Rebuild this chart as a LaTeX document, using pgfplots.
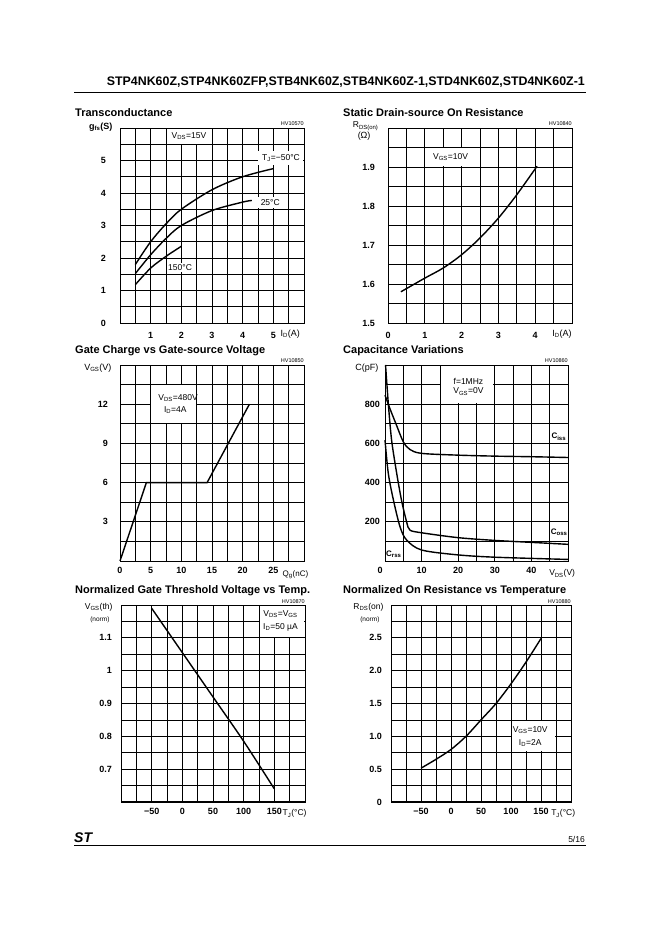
\documentclass[border=0pt]{standalone}
\usepackage{pgfplots}
\pgfplotsset{compat=1.18}
\usepackage{fontspec}
\setmainfont{Liberation Sans}

\newcommand{\subs}[1]{\textsubscript{#1}}
\newcommand{\tk}{\fontsize{9}{9}\selectfont\bfseries}
\newcommand{\an}{\fontsize{8.5}{10}\selectfont}
\newcommand{\ttl}{\fontsize{11}{12}\selectfont\bfseries}
\newcommand{\hv}{\fontsize{5.5}{6}\selectfont}

\pgfplotsset{
  ds/.style={
    scale only axis, anchor=south west, clip=false,
    axis line style={black, line width=0.8pt},
    grid=both,
    major grid style={black, line width=0.8pt},
    minor grid style={black, line width=0.8pt},
    major tick length=0pt, minor tick length=0pt,
    tick label style={font=\tk, inner sep=0pt},
    xticklabel style={anchor=north, yshift=-6pt},
    yticklabel style={anchor=east, xshift=-5pt},
  },
  curve/.style={black, line width=1.4pt, smooth, no markers},
}

\begin{document}
\begin{tikzpicture}
\fill[white] (0,0) rectangle (662pt,936pt);

% header and footer
\node[anchor=base east, font=\fontsize{12.4}{13}\selectfont\bfseries, inner sep=0pt]
  at (585pt,850pt) {STP4NK60Z,STP4NK60ZFP,STB4NK60Z,STB4NK60Z-1,STD4NK60Z,STD4NK60Z-1};
\draw[line width=0.8pt] (74pt,844pt) -- (586pt,844pt);
\draw[line width=0.8pt] (74pt,91pt) -- (586pt,91pt);
\node[anchor=base west, font=\fontsize{14}{14}\selectfont\bfseries\itshape, inner sep=0pt] at (74pt,93pt) {ST};
\node[anchor=base east, font=\fontsize{8.5}{9}\selectfont, inner sep=0pt] at (585pt,93pt) {5/16};

% titles
\node[anchor=base west, font=\ttl, inner sep=0pt] at (75pt,819.5pt) {Transconductance};
\node[anchor=base west, font=\ttl, inner sep=0pt] at (343pt,819.5pt) {Static Drain-source On Resistance};
\node[anchor=base west, font=\ttl, inner sep=0pt] at (75pt,582pt) {Gate Charge vs Gate-source Voltage};
\node[anchor=base west, font=\ttl, inner sep=0pt] at (343pt,582pt) {Capacitance Variations};
\node[anchor=base west, font=\ttl, inner sep=0pt] at (75pt,342pt) {Normalized Gate Threshold Voltage vs Temp.};
\node[anchor=base west, font=\ttl, inner sep=0pt] at (343pt,342pt) {Normalized On Resistance vs Temperature};

% 1 Transconductance
\begin{axis}[ds, at={(120pt,613pt)}, width=184pt, height=195pt,
  xmin=0, xmax=6, ymin=0, ymax=6,
  xtick={1,2,3,4,5}, xticklabels={1,2,3,4,5},
  minor xtick={0,0.5,1,1.5,2,2.5,3,3.5,4,4.5,5,5.5,6},
  ytick={0,1,2,3,4,5}, yticklabels={0,1,2,3,4,5},
  minor ytick={0,0.5,1,1.5,2,2.5,3,3.5,4,4.5,5,5.5,6},
  xticklabel style={yshift=-3pt}, yticklabel style={xshift=-9pt}]
\fill[white] (axis cs:1.53,5.52) rectangle (axis cs:2.97,5.98);
\fill[white] (axis cs:4.5,4.85) rectangle (axis cs:5.97,5.3);
\fill[white] (axis cs:4.5,3.55) rectangle (axis cs:5.3,3.87);
\fill[white] (axis cs:1.55,1.56) rectangle (axis cs:2.37,1.86);
\addplot[curve] coordinates {(0.5,1.8) (1,2.5) (1.5,3.05) (2,3.5) (3,4.1) (4,4.5) (5,4.75)};
\addplot[curve] coordinates {(0.5,1.52) (1,2.1) (1.5,2.6) (2,3.0) (3,3.46) (4,3.72) (4.3,3.77)};
\addplot[curve] coordinates {(0.5,1.18) (1,1.69) (1.5,2.05) (2,2.36)};
\node[font=\an] at (axis cs:2.25,5.75) {V\subs{DS}=15V};
\node[font=\an] at (axis cs:5.25,5.07) {T\subs{J}=−50°C};
\node[font=\an] at (axis cs:4.9,3.71) {25°C};
\node[font=\an] at (axis cs:1.96,1.71) {150°C};
\node[font=\fontsize{9}{9}\selectfont\bfseries, anchor=east] at ([xshift=-4pt,yshift=1pt]rel axis cs:0,1) {g\subs{fs}(S)};
\node[font=\fontsize{9}{9}\selectfont, anchor=north] at ([yshift=-3pt]axis cs:5.55,0) {I\subs{D}(A)};
\node[font=\hv, anchor=south east, inner sep=0pt] at ([yshift=2pt]rel axis cs:1,1) {HV10570};
\end{axis}

% 2 Static drain-source on resistance
\begin{axis}[ds, at={(388pt,613pt)}, width=184pt, height=195pt,
  xmin=0, xmax=5, ymin=1.5, ymax=2.0,
  xtick={0,1,2,3,4}, xticklabels={0,1,2,3,4},
  minor xtick={0,0.5,1,1.5,2,2.5,3,3.5,4,4.5,5},
  ytick={1.5,1.6,1.7,1.8,1.9}, yticklabels={1.5,1.6,1.7,1.8,1.9},
  minor ytick={1.5,1.55,1.6,1.65,1.7,1.75,1.8,1.85,1.9,1.95,2.0},
  xticklabel style={yshift=-3pt}, yticklabel style={xshift=-8pt}]
\fill[white] (axis cs:1.02,1.902) rectangle (axis cs:2.48,1.948);
\addplot[curve] coordinates {(0.35,1.58) (1,1.615) (1.5,1.641) (2,1.675) (2.5,1.718) (3,1.769) (3.5,1.829) (4.05,1.902)};
\node[font=\an] at (axis cs:1.7,1.925) {V\subs{GS}=10V};
\node[font=\fontsize{8.5}{9}\selectfont, anchor=east] at ([xshift=-6pt,yshift=2pt]rel axis cs:0,1) {R\subs{DS(on)}};
\node[font=\fontsize{9}{9}\selectfont, anchor=east] at ([xshift=-14pt,yshift=-8pt]rel axis cs:0,1) {(Ω)};
\node[font=\fontsize{9}{9}\selectfont, anchor=north] at ([yshift=-3pt]axis cs:4.73,1.5) {I\subs{D}(A)};
\node[font=\hv, anchor=south east, inner sep=0pt] at ([yshift=2pt]rel axis cs:1,1) {HV10840};
\end{axis}

% 3 Gate charge
\begin{axis}[ds, at={(120pt,375pt)}, width=184pt, height=196pt,
  xmin=0, xmax=30, ymin=0, ymax=15,
  xtick={0,5,10,15,20,25}, xticklabels={0,5,10,15,20,25},
  minor xtick={0,2.5,5,7.5,10,12.5,15,17.5,20,22.5,25,27.5,30},
  ytick={3,6,9,12}, yticklabels={3,6,9,12},
  minor ytick={0,1.5,3,4.5,6,7.5,9,10.5,12,13.5,15},
  yticklabel style={xshift=-7pt}]
\fill[white] (axis cs:5.1,10.55) rectangle (axis cs:12.4,13.45);
\addplot[black, line width=1.4pt, no markers] coordinates {(0,0) (4.3,6) (14.2,6) (21.1,12)};
\node[font=\an, anchor=west] at (axis cs:5.7,12.45) {V\subs{DS}=480V};
\node[font=\an, anchor=west] at (axis cs:6.6,11.55) {I\subs{D}=4A};
\node[font=\fontsize{9}{9}\selectfont, anchor=east] at ([xshift=-5pt,yshift=-3pt]rel axis cs:0,1) {V\subs{GS}(V)};
\node[font=\fontsize{8}{8}\selectfont, anchor=north] at ([yshift=-6pt]axis cs:28.6,0) {Q\subs{g}(nC)};
\node[font=\hv, anchor=south east, inner sep=0pt] at ([yshift=2pt]rel axis cs:1,1) {HV10850};
\end{axis}

% 4 Capacitance
\begin{axis}[ds, at={(385pt,375pt)}, width=183pt, height=196pt,
  xmin=0, xmax=50, ymin=0, ymax=1000,
  xtick={10,20,30,40}, xticklabels={10,20,30,40},
  minor xtick={0,5,10,15,20,25,30,35,40,45,50},
  ytick={200,400,600,800}, yticklabels={200,400,600,800},
  minor ytick={0,100,200,300,400,500,600,700,800,900,1000}]
\fill[white] (axis cs:15.4,805) rectangle (axis cs:29.6,995);
\fill[white] (axis cs:45.2,605) rectangle (axis cs:49.8,690);
\fill[white] (axis cs:45.2,105) rectangle (axis cs:49.8,195);
\fill[white] (axis cs:0.3,5) rectangle (axis cs:4.8,90);
\addplot[curve] coordinates {(0,846) (1.5,770) (3.2,690) (5,608) (6.8,569) (10,549) (20,540) (30,535) (40,532) (50,528)};
\addplot[curve] coordinates {(0.15,1000) (0.9,804) (1.8,617) (3.2,447) (4.5,311) (5.9,200) (6.8,158) (10,144) (20,119) (30,105) (40,95) (50,85)};
\addplot[curve] coordinates {(0,617) (0.9,447) (2.3,311) (4.1,175) (5.9,107) (10,56) (20,31) (30.5,19) (50,8)};
\node[font=\an] at (axis cs:22.8,915) {f=1MHz};
\node[font=\an] at (axis cs:22.8,864) {V\subs{GS}=0V};
\node[font=\fontsize{8}{8}\selectfont\bfseries] at (axis cs:47.5,635) {C\subs{iss}};
\node[font=\fontsize{8}{8}\selectfont\bfseries] at (axis cs:47.6,148) {C\subs{oss}};
\node[font=\fontsize{8}{8}\selectfont\bfseries] at (axis cs:2.4,35) {C\subs{rss}};
\node[font=\tk, anchor=north, inner sep=0pt] at ([xshift=-5pt,yshift=-6pt]axis cs:0,0) {0};
\node[font=\fontsize{9}{9}\selectfont, anchor=east] at ([xshift=-3pt,yshift=-3pt]rel axis cs:0,1) {C(pF)};
\node[font=\fontsize{8.5}{9}\selectfont, anchor=north] at ([yshift=-5pt]axis cs:48.4,0) {V\subs{DS}(V)};
\node[font=\hv, anchor=south east, inner sep=0pt] at ([yshift=2pt]rel axis cs:1,1) {HV10860};
\end{axis}

% 5 Normalized gate threshold voltage
\begin{axis}[ds, at={(121pt,134pt)}, width=184pt, height=197pt,
  xmin=-100, xmax=200, ymin=0.6, ymax=1.2,
  xtick={-50,0,50,100,150}, xticklabels={−50,0,50,100,150},
  minor xtick={-100,-75,-50,-25,0,25,50,75,100,125,150,175,200},
  ytick={0.7,0.8,0.9,1,1.1}, yticklabels={0.7,0.8,0.9,1,1.1},
  minor ytick={0.6,0.65,0.7,0.75,0.8,0.85,0.9,0.95,1,1.05,1.1,1.15,1.2},
  yticklabel style={xshift=-4pt}]
\fill[white] (axis cs:126,1.104) rectangle (axis cs:198,1.197);
\draw[line width=2pt] (rel axis cs:0,0) -- (rel axis cs:1,0);
\addplot[curve] coordinates {(-50,1.19) (0,1.055) (50,0.92) (100,0.785) (150,0.64)};
\node[font=\an] at (axis cs:160,1.173) {V\subs{DS}=V\subs{GS}};
\node[font=\an] at (axis cs:160,1.133) {I\subs{D}=50 µA};
\node[font=\fontsize{8.5}{9}\selectfont, anchor=east] at ([xshift=-5pt,yshift=-2pt]rel axis cs:0,1) {V\subs{GS}(th)};
\node[font=\fontsize{6.5}{7}\selectfont, anchor=east] at ([xshift=-8pt,yshift=-15pt]rel axis cs:0,1) {(norm)};
\node[font=\fontsize{8.5}{9}\selectfont, anchor=north] at ([yshift=-4pt]axis cs:183,0.6) {T\subs{J}(°C)};
\node[font=\hv, anchor=south east, inner sep=0pt] at ([yshift=1pt]rel axis cs:1,1) {HV10870};
\end{axis}

% 6 Normalized on resistance
\begin{axis}[ds, at={(391pt,134pt)}, width=180pt, height=197pt,
  xmin=-100, xmax=200, ymin=0, ymax=3,
  xtick={-50,0,50,100,150}, xticklabels={−50,0,50,100,150},
  minor xtick={-100,-75,-50,-25,0,25,50,75,100,125,150,175,200},
  ytick={0,0.5,1,1.5,2,2.5}, yticklabels={0,0.5,1.0,1.5,2.0,2.5},
  minor ytick={0,0.25,0.5,0.75,1,1.25,1.5,1.75,2,2.25,2.5,2.75,3},
  yticklabel style={xshift=-4pt}]
\fill[white] (axis cs:102,0.77) rectangle (axis cs:173,1.23);
\draw[line width=2pt] (rel axis cs:0,0) -- (rel axis cs:1,0);
\addplot[curve] coordinates {(-50,0.515) (-25,0.65) (0,0.8) (25,1.0) (50,1.25) (75,1.5) (100,1.8) (125,2.13) (150,2.49)};
\node[font=\an] at (axis cs:132,1.1) {V\subs{GS}=10V};
\node[font=\an] at (axis cs:132,0.9) {I\subs{D}=2A};
\node[font=\fontsize{8.5}{9}\selectfont, anchor=east] at ([xshift=-4pt,yshift=-2pt]rel axis cs:0,1) {R\subs{DS}(on)};
\node[font=\fontsize{6.5}{7}\selectfont, anchor=east] at ([xshift=-8pt,yshift=-15pt]rel axis cs:0,1) {(norm)};
\node[font=\fontsize{8.5}{9}\selectfont, anchor=north] at ([yshift=-4pt]axis cs:187,0) {T\subs{J}(°C)};
\node[font=\hv, anchor=south east, inner sep=0pt] at ([yshift=1pt]rel axis cs:1,1) {HV10880};
\end{axis}
\end{tikzpicture}
\end{document}
